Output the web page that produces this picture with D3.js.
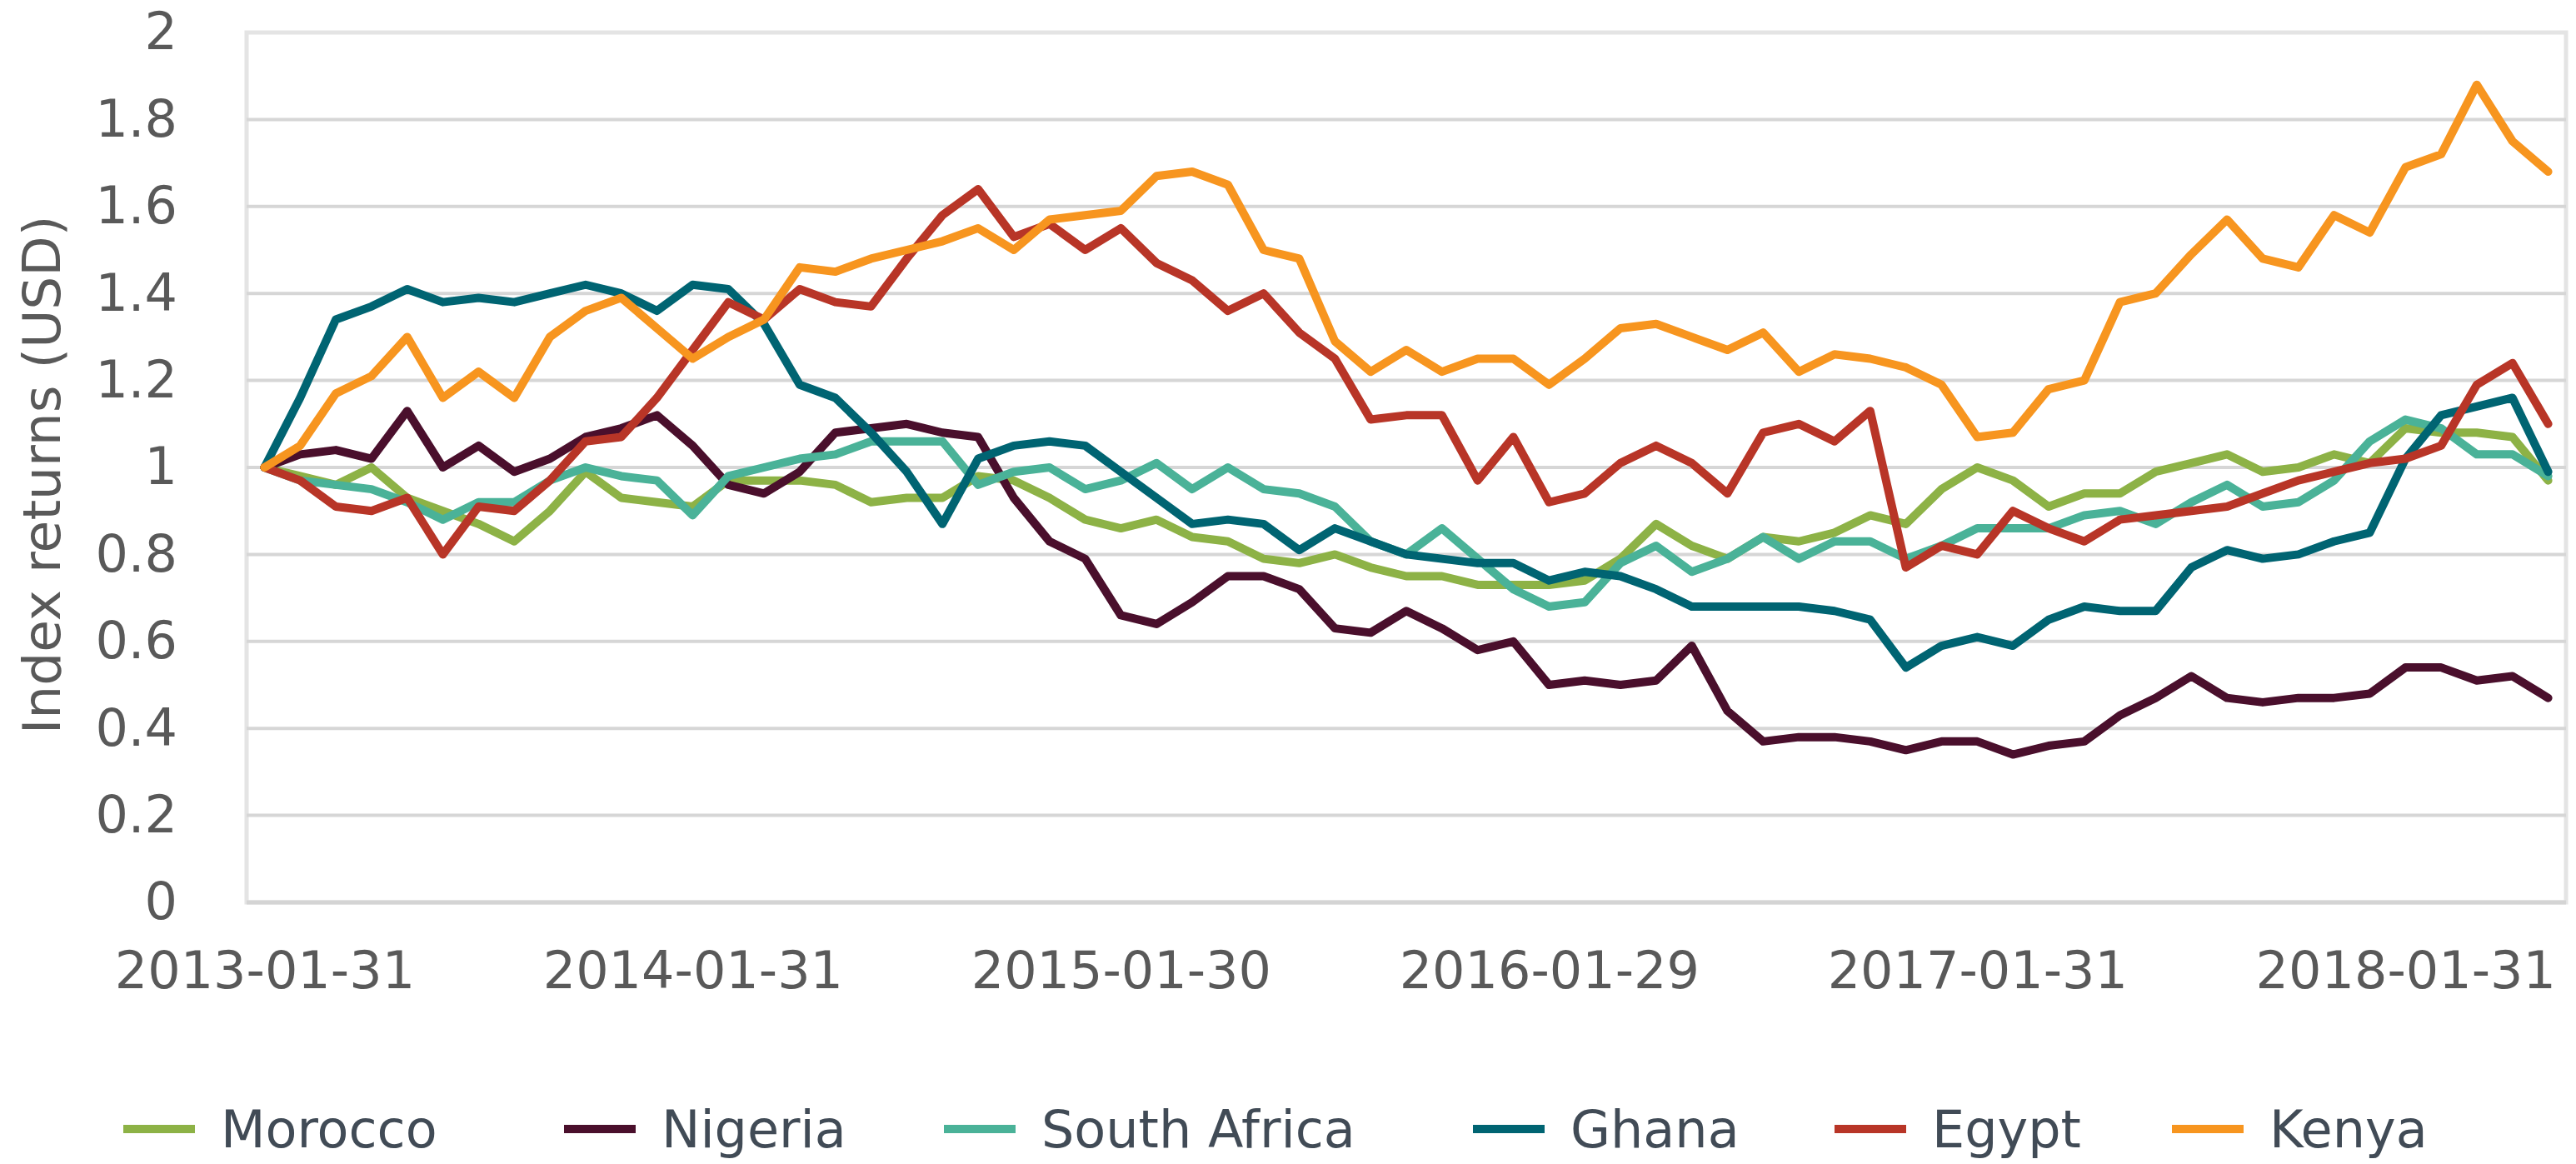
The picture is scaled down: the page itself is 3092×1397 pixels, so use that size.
<!DOCTYPE html>
<html>
<head>
<meta charset="utf-8">
<script src="https://cdn.jsdelivr.net/npm/d3@7"></script>
<style>
  html, body { margin: 0; padding: 0; background: #fff; }
  svg { display: block; font-family: "DejaVu Sans", Verdana, sans-serif; }
</style>
</head>
<body>
<svg id="chart" width="3092" height="1397"></svg>
<script>
// Index returns (USD), monthly, Jan 2013 - May 2018

var dates = [
  "2013-01-31","2013-02-28","2013-03-29","2013-04-30","2013-05-31","2013-06-28",
  "2013-07-31","2013-08-30","2013-09-30","2013-10-31","2013-11-29","2013-12-31",
  "2014-01-31","2014-02-28","2014-03-31","2014-04-30","2014-05-30","2014-06-30",
  "2014-07-31","2014-08-29","2014-09-30","2014-10-31","2014-11-28","2014-12-31",
  "2015-01-30","2015-02-27","2015-03-31","2015-04-30","2015-05-29","2015-06-30",
  "2015-07-31","2015-08-31","2015-09-30","2015-10-30","2015-11-30","2015-12-31",
  "2016-01-29","2016-02-29","2016-03-31","2016-04-29","2016-05-31","2016-06-30",
  "2016-07-29","2016-08-31","2016-09-30","2016-10-31","2016-11-30","2016-12-30",
  "2017-01-31","2017-02-28","2017-03-31","2017-04-28","2017-05-31","2017-06-30",
  "2017-07-31","2017-08-31","2017-09-29","2017-10-31","2017-11-30","2017-12-29",
  "2018-01-31","2018-02-28","2018-03-30","2018-04-30","2018-05-31"
];

var tickLabels = ["2013-01-31", "2014-01-31", "2015-01-30", "2016-01-29", "2017-01-31", "2018-01-31"];
var yTicks = [0, 0.2, 0.4, 0.6, 0.8, 1, 1.2, 1.4, 1.6, 1.8, 2];

var morocco = [1.00,0.98,0.96,1.00,0.93,0.90,0.87,0.83,0.90,0.99,0.93,0.92,0.91,0.97,0.97,0.97,
  0.96,0.92,0.93,0.93,0.98,0.97,0.93,0.88,0.86,0.88,0.84,0.83,0.79,0.78,0.80,0.77,0.75,0.75,
  0.73,0.73,0.73,0.74,0.79,0.87,0.82,0.79,0.84,0.83,0.85,0.89,0.87,0.95,1.00,0.97,0.91,0.94,
  0.94,0.99,1.01,1.03,0.99,1.00,1.03,1.01,1.09,1.08,1.08,1.07,0.97];

var nigeria = [1.00,1.03,1.04,1.02,1.13,1.00,1.05,0.99,1.02,1.07,1.09,1.12,1.05,0.96,0.94,0.99,
  1.08,1.09,1.10,1.08,1.07,0.93,0.83,0.79,0.66,0.64,0.69,0.75,0.75,0.72,0.63,0.62,0.67,0.63,
  0.58,0.60,0.50,0.51,0.50,0.51,0.59,0.44,0.37,0.38,0.38,0.37,0.35,0.37,0.37,0.34,0.36,0.37,
  0.43,0.47,0.52,0.47,0.46,0.47,0.47,0.48,0.54,0.54,0.51,0.52,0.47];

var southAfrica = [1.00,0.97,0.96,0.95,0.92,0.88,0.92,0.92,0.97,1.00,0.98,0.97,0.89,0.98,1.00,1.02,
  1.03,1.06,1.06,1.06,0.96,0.99,1.00,0.95,0.97,1.01,0.95,1.00,0.95,0.94,0.91,0.83,0.80,0.86,
  0.79,0.72,0.68,0.69,0.78,0.82,0.76,0.79,0.84,0.79,0.83,0.83,0.79,0.82,0.86,0.86,0.86,0.89,
  0.90,0.87,0.92,0.96,0.91,0.92,0.97,1.06,1.11,1.09,1.03,1.03,0.98];

var ghana = [1.00,1.16,1.34,1.37,1.41,1.38,1.39,1.38,1.40,1.42,1.40,1.36,1.42,1.41,1.33,1.19,
  1.16,1.08,0.99,0.87,1.02,1.05,1.06,1.05,0.99,0.93,0.87,0.88,0.87,0.81,0.86,0.83,0.80,0.79,
  0.78,0.78,0.74,0.76,0.75,0.72,0.68,0.68,0.68,0.68,0.67,0.65,0.54,0.59,0.61,0.59,0.65,0.68,
  0.67,0.67,0.77,0.81,0.79,0.80,0.83,0.85,1.02,1.12,1.14,1.16,0.99];

var egypt = [1.00,0.97,0.91,0.90,0.93,0.80,0.91,0.90,0.97,1.06,1.07,1.16,1.27,1.38,1.34,1.41,
  1.38,1.37,1.48,1.58,1.64,1.53,1.56,1.50,1.55,1.47,1.43,1.36,1.40,1.31,1.25,1.11,1.12,1.12,
  0.97,1.07,0.92,0.94,1.01,1.05,1.01,0.94,1.08,1.10,1.06,1.13,0.77,0.82,0.80,0.90,0.86,0.83,
  0.88,0.89,0.90,0.91,0.94,0.97,0.99,1.01,1.02,1.05,1.19,1.24,1.10];

var kenya = [1.00,1.05,1.17,1.21,1.30,1.16,1.22,1.16,1.30,1.36,1.39,1.32,1.25,1.30,1.34,1.46,
  1.45,1.48,1.50,1.52,1.55,1.50,1.57,1.58,1.59,1.67,1.68,1.65,1.50,1.48,1.29,1.22,1.27,1.22,
  1.25,1.25,1.19,1.25,1.32,1.33,1.30,1.27,1.31,1.22,1.26,1.25,1.23,1.19,1.07,1.08,1.18,1.20,
  1.38,1.40,1.49,1.57,1.48,1.46,1.58,1.54,1.69,1.72,1.88,1.75,1.68];

var seriesNames = ["Morocco", "Nigeria", "South Africa", "Ghana", "Egypt", "Kenya"];
var seriesValues = [morocco, nigeria, southAfrica, ghana, egypt, kenya];
var seriesColors = ["#8db246", "#4a0f2c", "#4ab298", "#006472", "#b83527", "#f7951f"];

var margin = { left: 296, right: 3080, top: 39, bottom: 1083 };
var svg = d3.select("#chart");

var x = d3.scalePoint().domain(dates).range([margin.left, margin.right]).padding(0.5);
var y = d3.scaleLinear().domain([0, 2]).range([margin.bottom, margin.top]);

// plot area frame
svg.append("rect")
  .attr("x", margin.left).attr("y", margin.top)
  .attr("width", margin.right - margin.left).attr("height", margin.bottom - margin.top)
  .attr("fill", "none").attr("stroke", "#e4e4e4").attr("stroke-width", 5);

// horizontal gridlines
svg.append("g").selectAll("line")
  .data(yTicks.filter(function (d) { return d > 0 && d < 2; }))
  .join("line")
  .attr("x1", margin.left).attr("x2", margin.right)
  .attr("y1", function (d) { return y(d); }).attr("y2", function (d) { return y(d); })
  .attr("stroke", "#d6d6d6").attr("stroke-width", 4);

// bottom axis line
svg.append("line")
  .attr("x1", margin.left).attr("x2", margin.right)
  .attr("y1", y(0)).attr("y2", y(0))
  .attr("stroke", "#d4d4d4").attr("stroke-width", 5);

// y axis labels
var yAxis = svg.append("g")
  .attr("transform", "translate(" + margin.left + ",0)")
  .call(d3.axisLeft(y).tickValues(yTicks).tickSize(0).tickPadding(83)
    .tickFormat(function (d) { return String(+d.toFixed(1)); }));
yAxis.select(".domain").remove();
yAxis.selectAll("text")
  .attr("font-family", "DejaVu Sans").attr("font-size", 62).attr("fill", "#595959");

// x axis labels
var xAxis = svg.append("g")
  .attr("transform", "translate(0," + margin.bottom + ")")
  .call(d3.axisBottom(x).tickValues(tickLabels).tickSize(0).tickPadding(59));
xAxis.select(".domain").remove();
xAxis.selectAll("text")
  .attr("font-family", "DejaVu Sans").attr("font-size", 62).attr("fill", "#595959");

// y axis title
svg.append("text")
  .attr("transform", "translate(72,570) rotate(-90)")
  .attr("text-anchor", "middle")
  .attr("font-size", 63).attr("fill", "#595959")
  .text("Index returns (USD)");

// series lines
var line = d3.line()
  .x(function (d, i) { return x(dates[i]); })
  .y(function (d) { return y(d); });

svg.append("g").selectAll("path")
  .data(seriesValues)
  .join("path")
  .attr("d", line)
  .attr("fill", "none")
  .attr("stroke", function (d, i) { return seriesColors[i]; })
  .attr("stroke-width", 10)
  .attr("stroke-linejoin", "round")
  .attr("stroke-linecap", "round");

// legend
var legendX = [148, 677, 1133, 1768, 2202, 2607];
var legendY = 1355;
var legend = svg.append("g").selectAll("g")
  .data(seriesNames)
  .join("g")
  .attr("transform", function (d, i) { return "translate(" + legendX[i] + "," + legendY + ")"; });

legend.append("line")
  .attr("x1", 0).attr("x2", 86)
  .attr("stroke", function (d, i) { return seriesColors[i]; })
  .attr("stroke-width", 10);

legend.append("text")
  .attr("x", 117)
  .attr("dy", "0.36em")
  .attr("font-size", 62).attr("fill", "#414b56")
  .text(function (d) { return d; });
</script>
</body>
</html>
